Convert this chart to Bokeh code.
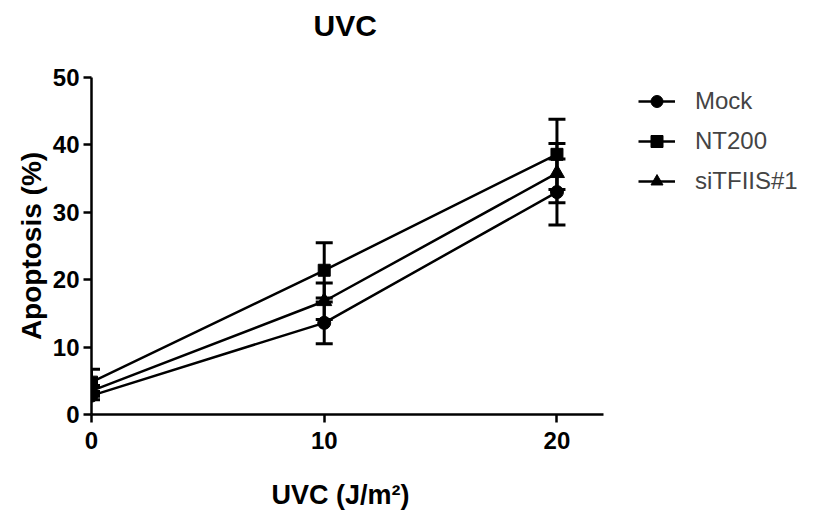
from bokeh.plotting import figure
from bokeh.models import (ColumnDataSource, Whisker, TeeHead, Legend, LegendItem,
                          FixedTicker, Range1d, Title)
from bokeh.embed import file_html
from bokeh.resources import INLINE

doses = [0, 10, 20]
mock_mean = [2.8, 13.6, 33.0]
mock_err = [0.6, 3.1, 4.9]
nt200_mean = [4.8, 21.4, 38.6]
nt200_err = [1.9, 4.1, 5.2]
si_mean = [3.5, 16.8, 35.8]
si_err = [0.8, 2.7, 4.4]
x_axis_end = 22

FONT = "Liberation Sans"

# frame spans to the right edge so the legend can sit in it; axis line is bounded to 0..22
frame_w = 710
x_max = x_axis_end * frame_w / 512.0

p = figure(frame_width=frame_w, frame_height=337, width=801, height=510,
           min_border_left=91, min_border_top=77, min_border_bottom=96, min_border_right=0,
           x_range=Range1d(0, x_max), y_range=Range1d(0, 50),
           output_backend="svg", toolbar_location=None, title="UVC")
p.outline_line_color = None
p.grid.grid_line_color = None
p.background_fill_color = "white"

p.title.text_font = FONT
p.title.text_font_size = "30px"
p.title.text_font_style = "bold"
p.title.align = "left"
p.title.vertical_align = "top"
p.title.offset = 222
p.title.standoff = 16
p.title.text_color = "black"

# spacer between the frame and the title
p.add_layout(Title(text=" ", text_font_size="10px", standoff=13), "above")

for ax in (p.xaxis[0], p.yaxis[0]):
    ax.axis_line_width = 2.5
    ax.major_tick_line_width = 2.5
    ax.major_tick_out = 8
    ax.major_tick_in = 0
    ax.minor_tick_line_color = None
    ax.major_label_text_font = FONT
    ax.major_label_text_font_size = "24px"
    ax.major_label_text_font_style = "bold"
    ax.major_label_text_color = "black"
    ax.axis_label_text_font = FONT
    ax.axis_label_text_font_style = "bold"
    ax.axis_label_text_color = "black"

p.xaxis[0].bounds = (0, x_axis_end)
p.xaxis[0].ticker = FixedTicker(ticks=doses)
p.yaxis[0].ticker = FixedTicker(ticks=[0, 10, 20, 30, 40, 50])
p.yaxis[0].axis_label = "Apoptosis (%)"
p.yaxis[0].axis_label_text_font_size = "28px"
p.xaxis[0].major_label_standoff = 9
p.yaxis[0].major_label_standoff = 4
p.yaxis[0].axis_label_standoff = 3

# spacer between the x axis and its label, then the label itself
p.add_layout(Title(text=" ", text_font_size="10px", standoff=11), "below")
xlabel = Title(text="UVC (J/m²)", align="left", offset=180, standoff=5,
               vertical_align="bottom",
               text_font=FONT, text_font_size="27px", text_font_style="bold",
               text_color="black")
p.add_layout(xlabel, "below")

series = [
    ("Mock", mock_mean, mock_err, "circle", 13),
    ("NT200", nt200_mean, nt200_err, "square", 12),
    ("siTFIIS#1", si_mean, si_err, "triangle", 15),
]
items = []
for name, mean, err, marker, size in series:
    src = ColumnDataSource(dict(
        x=doses, y=mean,
        lo=[m - e for m, e in zip(mean, err)],
        hi=[m + e for m, e in zip(mean, err)]))
    w = Whisker(source=src, base="x", lower="lo", upper="hi", dimension="height",
                line_width=3, line_color="black",
                upper_head=TeeHead(size=17, line_width=3, line_color="black"),
                lower_head=TeeHead(size=17, line_width=3, line_color="black"))
    p.add_layout(w)
    l = p.line("x", "y", source=src, line_width=2.5, line_color="black")
    s = p.scatter("x", "y", source=src, marker=marker, size=size,
                  fill_color="black", line_color="black")
    items.append(LegendItem(label=name, renderers=[l, s]))

legend = Legend(items=items, location=(547, 218), padding=0, spacing=10,
                glyph_width=37, glyph_height=30, label_height=30, label_standoff=20,
                label_text_font=FONT, label_text_font_size="24px",
                border_line_color=None, background_fill_alpha=0)
p.add_layout(legend)

open("out.html", "w").write(file_html(p, INLINE))
